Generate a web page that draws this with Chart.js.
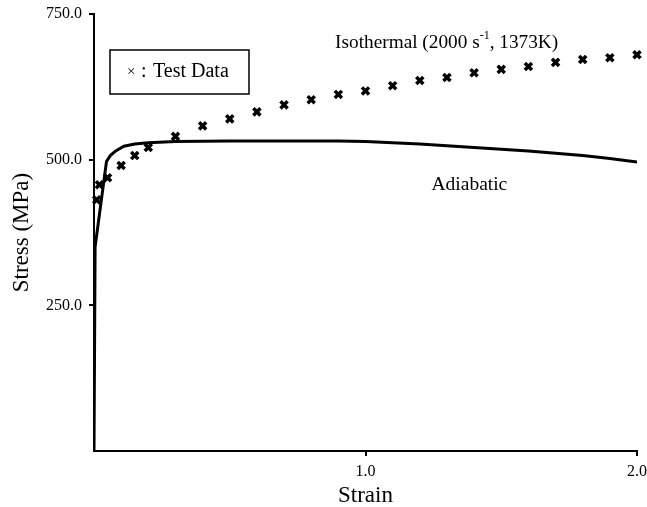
<!DOCTYPE html>
<html>
<head>
<meta charset="utf-8">
<script src="https://cdn.jsdelivr.net/npm/chart.js@4"></script>
<style>
  html, body { margin: 0; padding: 0; background: #fff; }
  #wrap { width: 647px; height: 507px; }
</style>
</head>
<body>
<div id="wrap"><canvas id="chart" width="647" height="507"></canvas></div>
<script>
// Test data (isothermal, 2000 1/s, 1373K)
const testStrain = [0.01, 0.02, 0.05, 0.1, 0.15, 0.2, 0.3, 0.4, 0.5, 0.6, 0.7, 0.8, 0.9, 1.0, 1.1, 1.2, 1.3, 1.4, 1.5, 1.6, 1.7, 1.8, 1.9, 2.0];
const testStress = [431, 457, 469, 490, 507, 521, 540, 558, 570, 582, 594, 603, 612, 618, 627, 636, 641, 649, 655, 660, 667, 672, 675, 680];

// Adiabatic simulation curve
const adiaStrain = [0, 0.004, 0.046, 0.06, 0.08, 0.11, 0.15, 0.2, 0.3, 0.5, 0.7, 0.9, 1.0, 1.1, 1.2, 1.3, 1.4, 1.5, 1.6, 1.7, 1.8, 1.9, 2.0];
const adiaStress = [0, 350, 497, 507, 515, 523, 527, 529, 531, 532, 532, 532, 531, 529, 527, 524, 521, 518, 515, 511, 507, 502, 496];

const xTicks = [0, 1, 2];
const yTicks = [0, 250, 500, 750];

const SERIF = '"Liberation Serif", "Times New Roman", serif';

const toPoints = (xs, ys) => xs.map((x, i) => ({ x, y: ys[i] }));

// legend box and curve labels
const notes = {
    id: 'notes',
    afterDraw(chart) {
        const ctx = chart.ctx;
        const xs = chart.scales.x, ys = chart.scales.y;
        const area = chart.chartArea;
        ctx.save();
        ctx.fillStyle = '#000';
        ctx.strokeStyle = '#000';

        // legend box
        const bx = area.left + 16, by = area.top + 36;
        ctx.lineWidth = 1.5;
        ctx.strokeRect(bx, by, 139, 44);
        ctx.textBaseline = 'middle';
        ctx.font = '15px ' + SERIF;
        ctx.fillText('\u00d7', bx + 17, by + 22);
        ctx.font = '20px ' + SERIF;
        ctx.fillText(':', bx + 31, by + 22);
        ctx.fillText('Test Data', bx + 43, by + 22);

        // isothermal label with superscript
        let tx = xs.getPixelForValue(0.888);
        const ty = ys.getPixelForValue(701);
        ctx.font = '19.3px ' + SERIF;
        const part1 = 'Isothermal (2000 s';
        ctx.fillText(part1, tx, ty);
        tx += ctx.measureText(part1).width;
        ctx.font = '12px ' + SERIF;
        ctx.fillText('-1', tx, ty - 7);
        tx += ctx.measureText('-1').width;
        ctx.font = '19.3px ' + SERIF;
        ctx.fillText(', 1373K)', tx, ty);

        // adiabatic label
        ctx.font = '19.5px ' + SERIF;
        ctx.fillText('Adiabatic', xs.getPixelForValue(1.243), ys.getPixelForValue(457));
        ctx.restore();
    }
};

const tickColor = (c) => (c.tick && c.tick.value === 0) ? 'rgba(0,0,0,0)' : '#000';

new Chart(document.getElementById('chart').getContext('2d'), {
    type: 'scatter',
    data: {
        datasets: [
            {
                label: 'Adiabatic',
                data: toPoints(adiaStrain, adiaStress),
                showLine: true,
                borderColor: '#000',
                borderWidth: 3,
                pointRadius: 0,
                tension: 0,
                fill: false
            },
            {
                label: 'Test Data',
                data: toPoints(testStrain, testStress),
                pointStyle: 'crossRot',
                pointRadius: 5,
                borderColor: '#000',
                backgroundColor: '#000',
                pointBorderWidth: 3.5,
                showLine: false,
                clip: false
            }
        ]
    },
    options: {
        responsive: false,
        animation: false,
        layout: { padding: { top: 14, right: 10, left: 0, bottom: 0 } },
        plugins: {
            legend: { display: false },
            tooltip: { enabled: false }
        },
        scales: {
            x: {
                type: 'linear',
                min: 0,
                max: 2,
                afterBuildTicks: (s) => { s.ticks = xTicks.map(v => ({ value: v })); },
                afterFit: (s) => { s.height = 56; s.paddingLeft = 0; s.paddingRight = 0; },
                ticks: {
                    color: '#000',
                    font: { family: SERIF, size: 16 },
                    padding: 6,
                    maxRotation: 0,
                    autoSkip: false,
                    callback: (v) => v === 0 ? '' : Number(v).toFixed(1)
                },
                grid: { drawOnChartArea: false, drawTicks: true, tickLength: 5, color: tickColor, lineWidth: 2 },
                border: { display: true, color: '#000', width: 2 },
                title: {
                    display: true,
                    text: 'Strain',
                    color: '#000',
                    font: { family: SERIF, size: 23, lineHeight: 1 },
                    padding: { top: 0, bottom: 0 }
                }
            },
            y: {
                type: 'linear',
                min: 0,
                max: 750,
                afterBuildTicks: (s) => { s.ticks = yTicks.map(v => ({ value: v })); },
                afterFit: (s) => { s.width = 94; s.paddingTop = 0; s.paddingBottom = 0; },
                ticks: {
                    color: '#000',
                    font: { family: SERIF, size: 16 },
                    padding: 7,
                    autoSkip: false,
                    callback: (v) => v === 0 ? '' : Number(v).toFixed(1)
                },
                grid: { drawOnChartArea: false, drawTicks: true, tickLength: 5, color: tickColor, lineWidth: 2 },
                border: { display: true, color: '#000', width: 2 },
                title: {
                    display: true,
                    text: 'Stress (MPa)',
                    color: '#000',
                    font: { family: SERIF, size: 23, lineHeight: 1 },
                    padding: { top: 10, bottom: 0 }
                }
            }
        }
    },
    plugins: [notes]
});
</script>
</body>
</html>
